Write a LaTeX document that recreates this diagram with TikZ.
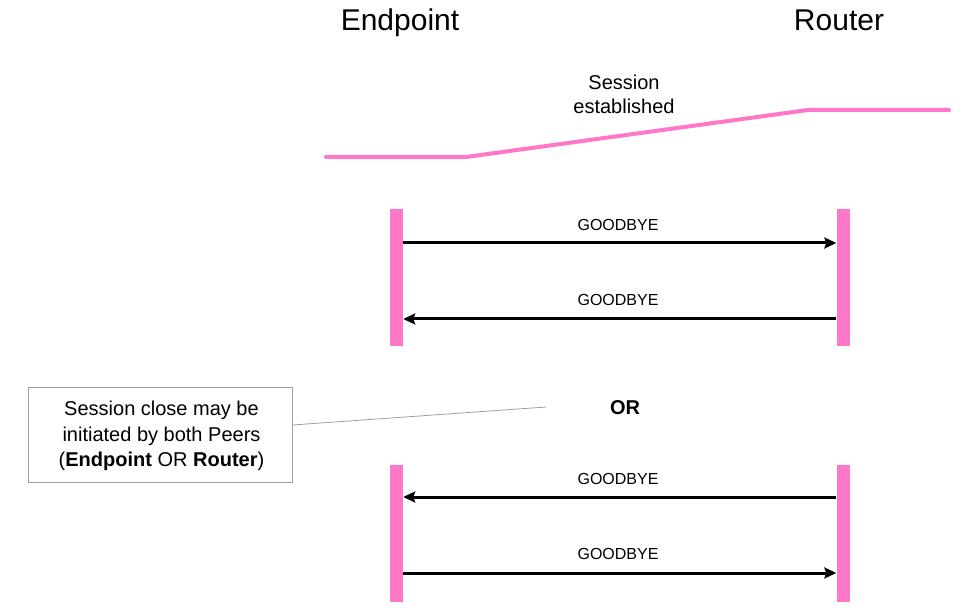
\documentclass[tikz,border=0pt]{standalone}
\usepackage{fontspec}
\setmainfont{Liberation Sans}
\usetikzlibrary{arrows.meta}
\definecolor{sesspink}{HTML}{FF77C8}
\definecolor{boxgrey}{HTML}{9E9E9E}
\tikzset{
  lifebar/.style={fill=sesspink, draw=none, minimum width=13pt, minimum height=137pt, inner sep=0pt},
  msg/.style={line width=3pt, -{Stealth[length=12pt,width=11pt,inset=2pt]}},
  msglabel/.style={font=\fontsize{16}{19}\selectfont, inner sep=0pt},
  title/.style={font=\fontsize{30}{36}\selectfont, inner sep=0pt, anchor=base},
  sessline/.style={draw=sesspink, line width=4pt, line cap=round},
  note/.style={draw=boxgrey, line width=0.8pt, minimum width=264pt, minimum height=95pt, align=center, font=\fontsize{20}{25.5}\selectfont, inner sep=0pt},
}
\begin{document}
\begin{tikzpicture}[x=1pt,y=-1pt]
\useasboundingbox (0,0) rectangle (980,612);
% titles
\node[title] (tEnd) at (400,31) {Endpoint};
\node[title] (tRou) at (839,31) {Router};
% session line
\coordinate (s1) at (326,157);
\coordinate (s2) at (466,157);
\coordinate (s3) at (808,110);
\coordinate (s4) at (949,110);
\draw[sessline] (s1) -- (s2) -- (s3) -- (s4);
\node[font=\fontsize{20}{24}\selectfont, align=center, inner sep=0pt] (sess) at (624,94) {Session\\established};
% upper bars
\node[lifebar] (lb1) at (396.5,277.5) {};
\node[lifebar] (rb1) at (843,277.5) {};
\draw[msg] (lb1.east |- 0,243) -- (rb1.west |- 0,243);
\node[msglabel] (g1) at (618,225) {GOODBYE};
\draw[msg] (rb1.west |- 0,319) -- (lb1.east |- 0,319);
\node[msglabel] (g2) at (618,300) {GOODBYE};
% OR
\node[font=\bfseries\fontsize{20}{24}\selectfont, inner sep=0pt] (or) at (625,408) {OR};
% lower bars
\node[lifebar] (lb2) at (396.5,533) {};
\node[lifebar] (rb2) at (843,533) {};
\draw[msg] (rb2.west |- 0,497) -- (lb2.east |- 0,497);
\node[msglabel] (g3) at (618,479) {GOODBYE};
\draw[msg] (lb2.east |- 0,573) -- (rb2.west |- 0,573);
\node[msglabel] (g4) at (618,554) {GOODBYE};
% note
\node[note] (nt) at (160,434.5) {};
\node[font=\fontsize{20}{25.5}\selectfont, align=center, inner sep=0pt] (nttext) at (161.5,436) {Session close may be\\initiated by both Peers\\(\textbf{Endpoint} OR \textbf{Router})};
\coordinate (ntend) at (546,407);
\draw[boxgrey, line width=0.8pt] (nt.east |- 0,425) -- (ntend);
\end{tikzpicture}
\end{document}
